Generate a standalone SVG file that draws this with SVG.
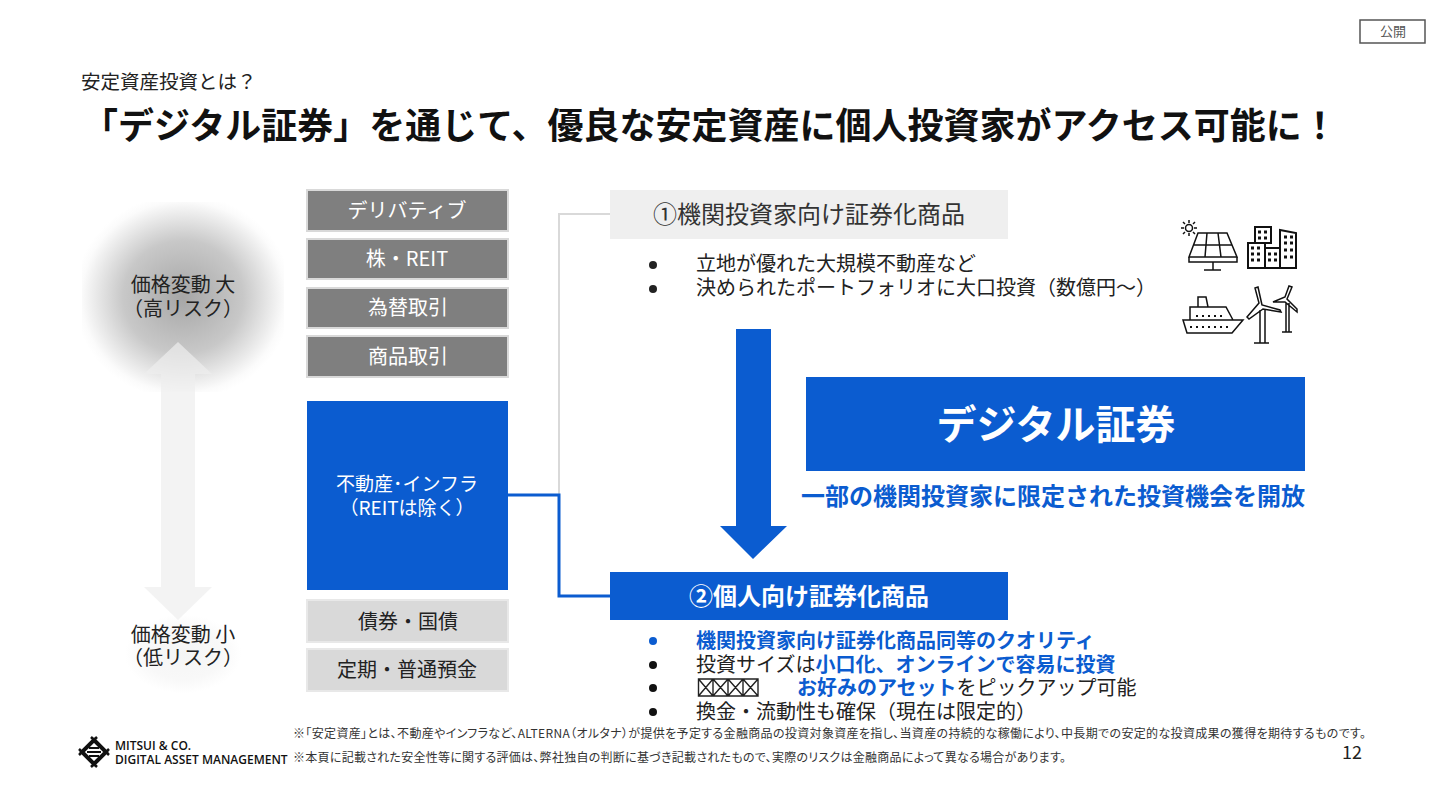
<svg xmlns="http://www.w3.org/2000/svg" width="1440" height="810" viewBox="0 0 1440 810">
<style>
text{font-family:"Noto Sans CJK JP","Noto Sans",sans-serif;fill:#222}
.c{text-anchor:middle}
.b{font-weight:700}
.blue{fill:#0b5cd0;font-weight:700}
.w{fill:#fff}
.dk{fill:#7f7f7f;stroke:#d9d9d9;stroke-width:2}
.lt{fill:#d9d9d9;stroke:#e8e8e8;stroke-width:2}
.l{font-size:20px}
.n{font-size:12px;fill:#333;font-feature-settings:"palt"}
.ic{fill:none;stroke:#111;stroke-width:1.5}
.tf{fill:none;stroke:#222;stroke-width:1.4}
</style>
<defs>
<radialGradient id="g1" r=".54"><stop offset="0" stop-color="#a6a6a6"/><stop offset=".55" stop-color="#c8c8c8"/><stop offset=".93" stop-color="#fbfbfb"/><stop offset="1" stop-color="#fff"/></radialGradient>
<radialGradient id="g2" r=".54"><stop offset="0" stop-color="#f5f5f5"/><stop offset=".6" stop-color="#f8f8f8"/><stop offset=".93" stop-color="#fff"/></radialGradient>
</defs>
<rect width="1440" height="810" fill="#fff"/>
<g id="badge"><rect x="1360" y="20" width="65" height="23" fill="#fff" stroke="#555" stroke-width="1.500"/><text x="1393" y="36" class="c" font-size="13" style="fill:#555">公開</text></g>
<text x="81" y="89" font-size="19.500">安定資産投資とは？</text>
<text x="82" y="139" class="b" font-size="36" style="fill:#111">「デジタル証券」を通じて、優良な安定資産に個人投資家がアクセス可能に！</text>

<g id="risk-scale">
<rect x="82" y="202" width="202" height="190" rx="62" fill="url(#g1)"/>
<rect x="125" y="615" width="116" height="78" rx="26" fill="url(#g2)"/>
<path d="M178 342L212 374H195V587H212L178 620L144 587H161V374H144Z" fill="#eeeeee" fill-opacity=".7"/>
<text x="183" y="292" class="c l">価格変動 大</text><text x="183" y="316" class="c l">（高リスク）</text>
<text x="183" y="642" class="c l">価格変動 小</text><text x="183" y="665" class="c l">（低リスク）</text>
</g>

<g id="connectors">
<path d="M610 214H559V495" fill="none" stroke="#d9d9d9" stroke-width="2"/>
<path d="M508 495H559V596H610" fill="none" stroke="#0b5cd0" stroke-width="3"/>
<path d="M736 329H771V526H787L753 559L720 526H736Z" fill="#0b5cd0"/>
</g>

<g id="n-deriv"><rect x="307" y="190" width="201" height="41" class="dk"/><text x="407" y="218" class="c l w">デリバティブ</text></g>
<g id="n-stock"><rect x="307" y="239" width="201" height="40" class="dk"/><text x="407" y="266" class="c l w">株・REIT</text></g>
<g id="n-fx"><rect x="307" y="288" width="201" height="40" class="dk"/><text x="408" y="315" class="c l w">為替取引</text></g>
<g id="n-comm"><rect x="307" y="336" width="201" height="41" class="dk"/><text x="408" y="364" class="c l w">商品取引</text></g>
<g id="n-real"><rect x="307" y="401" width="201" height="189" fill="#0b5cd0"/><text x="407" y="491" class="c w" font-size="19">不動産･インフラ</text><text x="407" y="515" class="c w" font-size="19">（REITは除く）</text></g>
<g id="n-bond"><rect x="307" y="600" width="201" height="42" class="lt"/><text x="408" y="629" class="c l">債券・国債</text></g>
<g id="n-dep"><rect x="307" y="649" width="201" height="42" class="lt"/><text x="407" y="677" class="c l">定期・普通預金</text></g>

<g id="n-inst"><rect x="610" y="190" width="398" height="49" fill="#efefef"/><text x="809" y="223" class="c" font-size="24" style="fill:#333">①機関投資家向け証券化商品</text></g>
<g id="inst-list" font-size="20">
<circle cx="653" cy="265" r="4" fill="#222"/><text x="696" y="271">立地が優れた大規模不動産など</text>
<circle cx="653" cy="289" r="4" fill="#222"/><text x="696" y="295">決められたポートフォリオに大口投資（数億円～）</text>
</g>

<g id="icons">
<g class="ic"><circle cx="1189" cy="228" r="3.500"/><path d="M1189 220v3M1189 233v3M1181 228h3M1194 228h3M1183 222l2 2M1193 232l2 2M1183 234l2-2M1193 224l2-2"/>
<path d="M1198 233H1227L1237 257H1189ZM1194 245H1232M1189 257V262H1237V257M1207 233L1205 257M1218 233L1221 257M1213 262V270M1204 270H1221"/></g>
<g fill="none" stroke="#111" stroke-width="2"><rect x="1248" y="243" width="17" height="25"/><rect x="1255" y="227" width="16" height="16"/><rect x="1265" y="248" width="15" height="20"/><path d="M1280 268V230L1296 233V268Z"/></g>
<g stroke="#111" stroke-width="3" stroke-dasharray="3 3" fill="none"><path d="M1251 248H1263M1251 254H1263M1251 260H1263M1258 232H1269M1258 238H1269M1268 254H1278M1268 260H1278M1284 237H1294M1284 243H1294M1284 250H1294M1284 257H1294"/></g>
<g class="ic"><path d="M1183 320H1243L1232 333H1187ZM1190 320V307H1226L1233 320M1198 307V297H1206L1208 307"/><path d="M1190 327H1230M1196 316H1226" stroke-dasharray="2 4" stroke-width="2"/></g>
<g class="ic"><path d="M1260 343V310M1265 343V310M1254 343H1269M1262 305L1258 287L1255 288L1259 303L1247 317L1249 319L1263 309L1281 312L1280 310Z"/><path d="M1286 332V303M1289 332V303M1282 332H1292M1287 299L1292 287L1289 286L1285 297L1273 302L1285 302L1297 312L1297 309Z"/></g>
</g>

<g id="n-digital"><rect x="806" y="377" width="499" height="94" fill="#0b5cd0"/><text x="1056" y="439" class="c b w" font-size="40">デジタル証券</text></g>
<text x="1053" y="505" class="c blue" font-size="24">一部の機関投資家に限定された投資機会を開放</text>

<g id="n-retail"><rect x="610" y="572" width="398" height="48" fill="#0b5cd0"/><text x="809" y="605" class="c b w" font-size="24">②個人向け証券化商品</text></g>
<g id="retail-list" font-size="20">
<circle cx="653" cy="641" r="4" fill="#0b5cd0"/><text x="696" y="648" class="blue">機関投資家向け証券化商品同等のクオリティ</text>
<circle cx="653" cy="665" r="4" fill="#111"/><text x="696" y="672">投資サイズは<tspan class="blue">小口化、オンラインで容易に投資</tspan></text>
<circle cx="653" cy="688" r="4" fill="#111"/>
<g class="tf"><path d="M698.500 679h14.500v17h-14.500zM698.500 679l14.500 17M713 679l-14.500 17M713 679h15v17h-15zM713 679l15 17M728 679l-15 17M728 679h15v17h-15zM728 679l15 17M743 679l-15 17M743 679h15v17h-15zM743 679l15 17M758 679l-15 17"/></g>
<text x="797" y="695"><tspan class="blue">お好みのアセット</tspan>をピックアップ可能</text>
<circle cx="653" cy="712" r="4" fill="#111"/><text x="696" y="719">換金・流動性も確保（現在は限定的）</text>
</g>

<g id="logo">
<path d="M94 740L106 752L94 764L82 752Z" fill="none" stroke="#111" stroke-width="4"/>
<path d="M89 748H99M87 752H101M89 756H99" stroke="#111" stroke-width="1.800"/>
<path d="M91 737L97 743M97 737L91 743M91 761L97 767M97 761L91 767M79 749L85 755M79 755L85 749M103 749L109 755M103 755L109 749" stroke="#111" stroke-width="2.500"/>
<text x="115" y="750" font-size="12" style="font-family:'Open Sans','Noto Sans',sans-serif;fill:#111;font-weight:600">MITSUI &amp; CO.</text>
<text x="115" y="764" font-size="12" style="font-family:'Open Sans','Noto Sans',sans-serif;fill:#111;font-weight:600">DIGITAL ASSET MANAGEMENT</text>
</g>
<text x="293" y="738" class="n" textLength="1073" lengthAdjust="spacing">※「安定資産」とは、不動産やインフラなど、ALTERNA（オルタナ）が提供を予定する金融商品の投資対象資産を指し、当資産の持続的な稼働により、中長期での安定的な投資成果の獲得を期待するものです。</text>
<text x="293" y="762" class="n" textLength="773" lengthAdjust="spacing">※本頁に記載された安全性等に関する評価は、弊社独自の判断に基づき記載されたもので、実際のリスクは金融商品によって異なる場合があります。</text>
<text x="1342" y="759" font-size="18">12</text>
</svg>
